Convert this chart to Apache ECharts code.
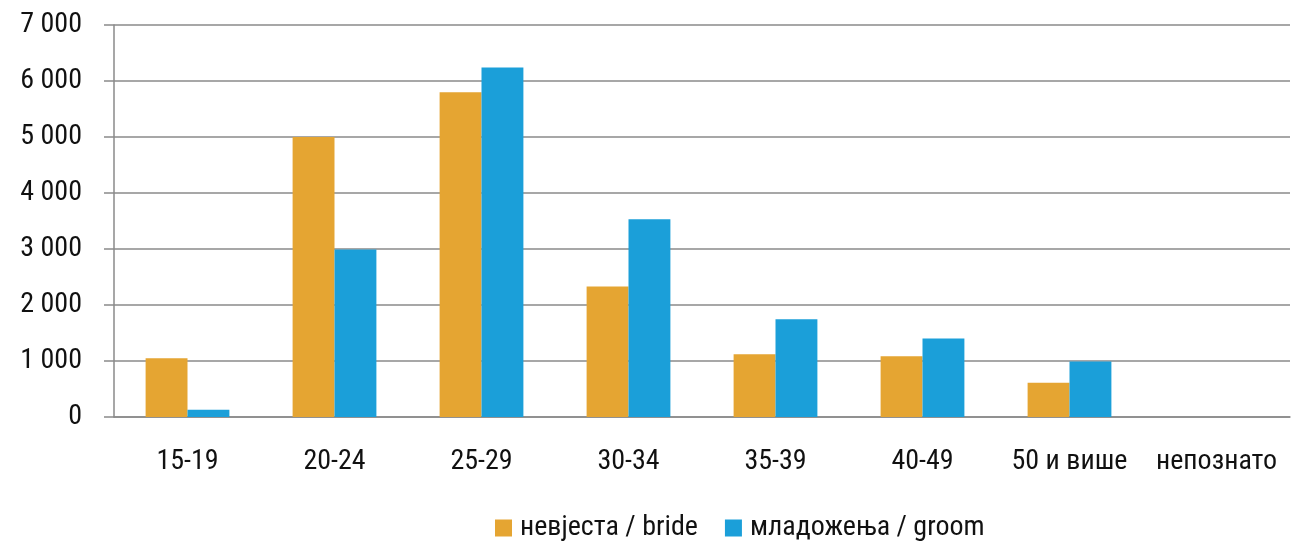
<!DOCTYPE html>
<html>
<head>
<meta charset="utf-8">
<script src="https://cdn.jsdelivr.net/npm/echarts@6/dist/echarts.min.js"></script>
<style>
  html, body { margin: 0; padding: 0; background: #fff; }
  #chart { width: 1294px; height: 542px; }
</style>
</head>
<body>
<div id="chart"></div>
<script>
const categories = ['15-19', '20-24', '25-29', '30-34', '35-39', '40-49', '50 и више', 'непознато'];
const brideValues = [1050, 5000, 5800, 2330, 1120, 1085, 610, 0];
const groomValues = [130, 2990, 6240, 3530, 1745, 1400, 990, 0];
const seriesNames = ['невјеста / bride', 'младожења / groom'];

const FONT = '"Roboto Condensed", Roboto, sans-serif';
const formatThousands = (v) => String(v).replace(/\B(?=(\d{3})+(?!\d))/g, ' ');

const chart = echarts.init(document.getElementById('chart'));

const option = {
    animation: false,
    backgroundColor: '#fff',
    textStyle: { fontFamily: FONT },
    grid: { left: 114, right: 4, top: 25, bottom: 125 },
    legend: {
        data: seriesNames,
        left: 490,
        top: 509,
        icon: 'rect',
        itemWidth: 17,
        itemHeight: 17,
        itemGap: 27,
        textStyle: { fontFamily: FONT, fontSize: 28, color: '#111', padding: [0, 0, 0, 3] }
    },
    xAxis: {
        type: 'category',
        data: categories,
        axisLine: { lineStyle: { color: '#8a8a8a', width: 1.5 } },
        axisTick: { length: 10, lineStyle: { color: '#8a8a8a', width: 1.5 } },
        axisLabel: { fontFamily: FONT, fontSize: 28, color: '#111', margin: 31, interval: 0 }
    },
    yAxis: {
        type: 'value',
        min: 0,
        max: 7000,
        interval: 1000,
        axisLine: { show: true, lineStyle: { color: '#8a8a8a', width: 1.5 } },
        axisTick: { show: true, length: 10, lineStyle: { color: '#8a8a8a', width: 1.5 } },
        splitLine: { lineStyle: { color: '#8a8a8a', width: 1.5 } },
        axisLabel: { fontFamily: FONT, fontSize: 28, color: '#111', margin: 32, formatter: formatThousands }
    },
    series: [
        {
            name: seriesNames[0],
            type: 'bar',
            data: brideValues,
            barGap: '0%',
            barCategoryGap: '43%',
            itemStyle: { color: '#E5A532' }
        },
        {
            name: seriesNames[1],
            type: 'bar',
            data: groomValues,
            itemStyle: { color: '#1B9FD9' }
        }
    ]
};
chart.setOption(option);
</script>
</body>
</html>
